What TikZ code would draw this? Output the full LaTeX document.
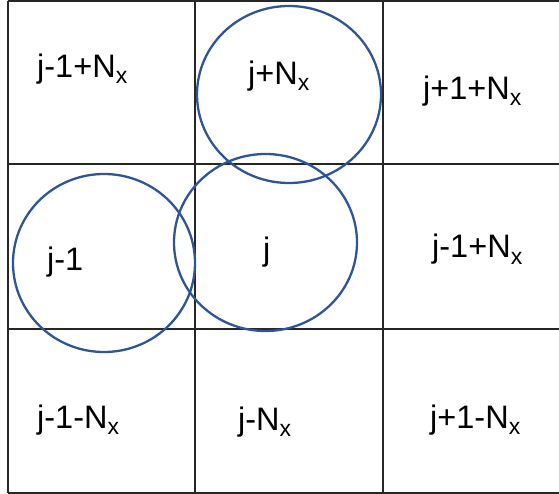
\documentclass[tikz,border=0pt]{standalone}
\usepackage{fontspec}
\setmainfont{Liberation Sans}
\definecolor{ringblue}{HTML}{2F5597}
\newcommand{\subx}{\raisebox{-6pt}{\fontsize{23}{24}\selectfont x}}
\tikzset{
  cell/.style={anchor=base west,inner sep=0pt,font=\fontsize{32.5}{38}\selectfont},
  grid line/.style={line width=1.8pt,black!85},
  ring/.style={line width=2.3pt,ringblue}
}

\begin{document}
\begin{tikzpicture}[x=1pt,y=-1pt]
  \useasboundingbox (0,0) rectangle (559,494);
  % grid
  \foreach \y in {0.9,164,329,492.6}
    \draw[grid line] (7.6,\y) -- (559,\y);
  \foreach \x in {7.6,195,383}
    \draw[grid line] (\x,0.9) -- (\x,492.6);
  %
  \node[cell] (nw) at (37,78)  {j-1+N\subx};
  \node[cell] (n)  at (248,85) {j+N\subx};
  \node[cell] (ne) at (423,100) {j+1+N\subx};
  \node[cell] (w)  at (47,270) {j-1};
  \node[cell] (c)  at (263,261) {j};
  \node[cell] (e)  at (432,258) {j-1+N\subx};
  \node[cell] (sw) at (37,428) {j-1-N\subx};
  \node[cell] (s)  at (238,430) {j-N\subx};
  \node[cell] (se) at (430,428) {j+1-N\subx};
  % stencil rings
  \draw[ring] (289,94.5) ellipse [x radius=92,y radius=88.5];
  \draw[ring] (265.5,242.5) ellipse [x radius=91.5,y radius=88.5];
  \draw[ring] (104,263) ellipse [x radius=91,y radius=89];
\end{tikzpicture}
\end{document}
